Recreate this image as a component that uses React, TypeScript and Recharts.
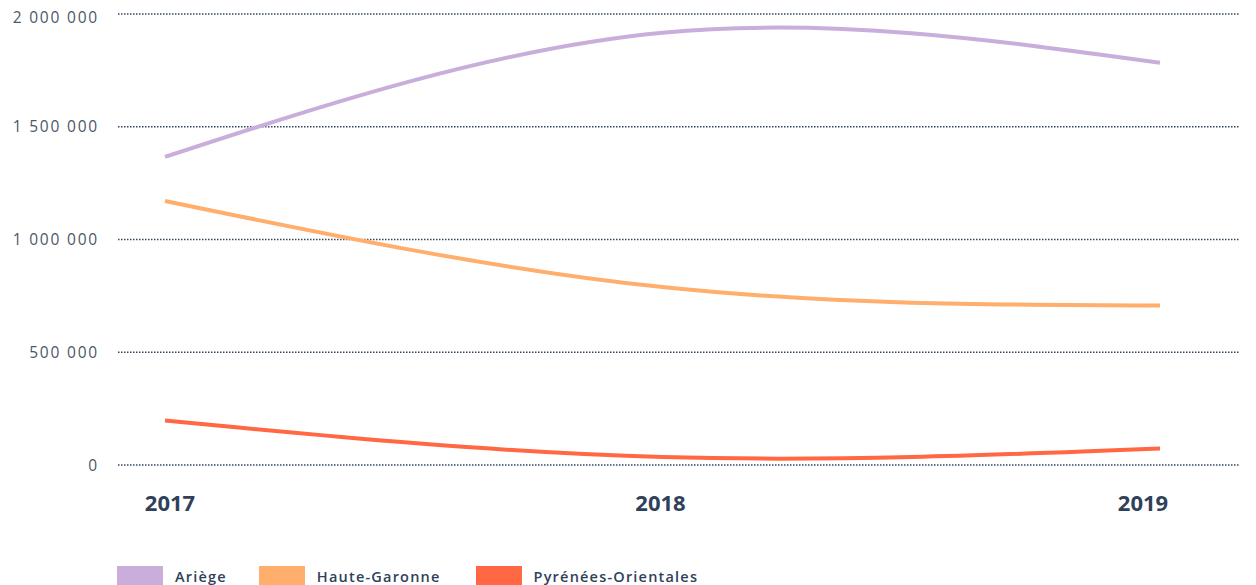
import * as React from 'react';
import { LineChart, Line, XAxis, YAxis, CartesianGrid, Legend } from 'recharts';

const years = ['2017', '2018', '2019'];
const ariege = [1366000, 1917000, 1784000];
const hauteGaronne = [1171000, 789000, 707000];
const pyreneesOrientales = [197000, 35000, 73000];
const yTicks = [0, 500000, 1000000, 1500000, 2000000];

const series = [
    { key: 'ariege', name: 'Ariège', color: '#c9addb', values: ariege },
    { key: 'hauteGaronne', name: 'Haute-Garonne', color: '#ffae6b', values: hauteGaronne },
    { key: 'pyreneesOrientales', name: 'Pyrénées-Orientales', color: '#ff6842', values: pyreneesOrientales },
];

const data = years.map((y, i) => ({
    year: y,
    ariege: ariege[i],
    hauteGaronne: hauteGaronne[i],
    pyreneesOrientales: pyreneesOrientales[i],
}));

const font = '"Open Sans", sans-serif';
const textColor = '#2f4159';

const fmt = (v: number) => String(v).replace(/\B(?=(\d{3})+(?!\d))/g, ' ');

// labels are not exactly under the points in the original
const xShift = [5, -2, -17];

const YearTick = (props: any) => {
    const { x, y, payload, index } = props;
    return (
        <text
            x={x + (xShift[index] || 0)}
            y={y + 38}
            dy='0.35em'
            textAnchor='middle'
            fill={textColor}
            fontFamily={font}
            fontSize={22}
            fontWeight={700}
        >
            {payload.value}
        </text>
    );
};

const LegendBox = () => (
    <div style={{ height: 62, display: 'flex', alignItems: 'flex-start', fontFamily: font }}>
        {series.map((s, i) => (
            <div key={s.key} style={{ display: 'flex', alignItems: 'center', marginRight: i === 0 ? 32 : 35 }}>
                <span style={{ display: 'inline-block', width: 46, height: 21, background: s.color }} />
                <span style={{
                    marginLeft: 12,
                    fontSize: 14.5,
                    fontWeight: 600,
                    letterSpacing: 1.2,
                    color: textColor,
                }}>{s.name}</span>
            </div>
        ))}
    </div>
);

export default function App() {
    return (
        <div>
            <style>{'svg.recharts-surface { overflow: visible; }'}</style>
            <LineChart
                width={1240}
                height={620}
                data={data}
                margin={{ top: 6, right: 8, bottom: 0, left: 0 }}
            >
                <CartesianGrid
                    vertical={false}
                    stroke='#34495e'
                    strokeWidth={1.3}
                    strokeDasharray='1.5 1.5'
                />
                <XAxis
                    dataKey='year'
                    axisLine={false}
                    tickLine={false}
                    tickSize={0}
                    tickMargin={0}
                    height={101}
                    padding={{ left: 47, right: 80 }}
                    tick={<YearTick />}
                />
                <YAxis
                    width={110}
                    domain={[0, 2000000]}
                    ticks={yTicks}
                    axisLine={false}
                    tickLine={false}
                    tickSize={0}
                    tickMargin={19}
                    tickFormatter={fmt}
                    tick={{ fill: '#4d5766', fontSize: 15.5, fontFamily: font, letterSpacing: 1.8 }}
                />
                <Legend
                    verticalAlign='bottom'
                    align='left'
                    wrapperStyle={{ left: 109 }}
                    content={<LegendBox />}
                />
                {series.map(s => (
                    <Line
                        key={s.key}
                        type='natural'
                        dataKey={s.key}
                        name={s.name}
                        stroke={s.color}
                        strokeWidth={4}
                        dot={false}
                        activeDot={false}
                        isAnimationActive={false}
                    />
                ))}
            </LineChart>
        </div>
    );
}
